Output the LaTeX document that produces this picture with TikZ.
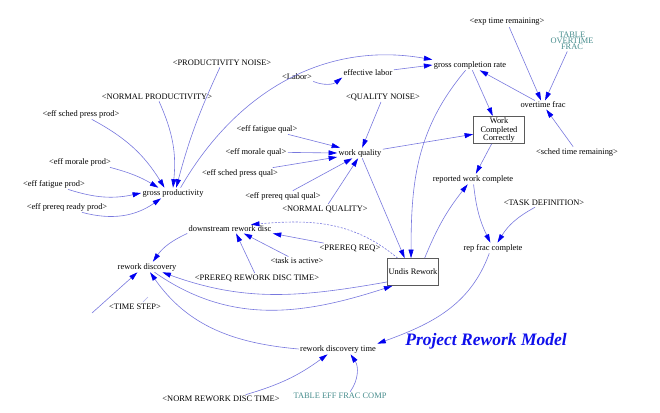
\documentclass[tikz,border=0pt]{standalone}
\usepackage{fontspec}
\setmainfont{Liberation Serif}
\usetikzlibrary{arrows.meta}
\definecolor{linkblue}{RGB}{120,120,222}
\definecolor{tipblue}{RGB}{0,0,240}
\definecolor{tblteal}{RGB}{70,140,140}
\definecolor{titleblue}{RGB}{15,15,235}
\definecolor{boxgray}{RGB}{90,90,90}
\tikzset{
  var/.style={font=\fontsize{8.4}{8.8}\selectfont,inner sep=1.3pt},
  tbl/.style={var,text=tblteal,align=center},
  lvl/.style={var,draw=boxgray,line width=0.8pt,minimum width=51pt,minimum height=27pt,align=center,inner sep=1pt},
  link/.style={draw=linkblue,line width=0.6pt,-{Triangle[length=8.5pt,width=5pt,color=tipblue]}},
  dlink/.style={link,dash pattern=on 2pt off 1.5pt},
  ttl/.style={font=\fontsize{17.5}{20}\selectfont\bfseries\itshape,text=titleblue}
}
\begin{document}
\begin{tikzpicture}[x=1pt,y=-1pt]
  \useasboundingbox (0,0) rectangle (660,412);
  \node[var] (pnoise) at (222,63) {<PRODUCTIVITY NOISE>};
  \node[var] (nprod) at (157,97) {<NORMAL PRODUCTIVITY>};
  \node[var] (espp) at (81,114) {<eff sched press prod>};
  \node[var] (emp) at (80,162) {<eff morale prod>};
  \node[var] (efp) at (54,184) {<eff fatigue prod>};
  \node[var] (eprp) at (67,207) {<eff prereq ready prod>};
  \node[var] (gp) at (173,193) {gross productivity};
  \node[var] (labor) at (297,77) {<Labor>};
  \node[var] (efflab) at (368,73) {effective labor};
  \node[var] (gcr) at (470,65) {gross completion rate};
  \node[var] (exptr) at (507,22) {<exp time remaining>};
  \node[tbl,font=\fontsize{8.4}{5.6}\selectfont] (tovf) at (572,41) {TABLE\\OVERTIME\\FRAC};
  \node[var] (ovf) at (543,105) {overtime frac};
  \node[var] (schtr) at (577,152) {<sched time remaining>};
  \node[lvl] (wcc) at (499,130) {Work\\Completed\\Correctly};
  \node[var] (qnoise) at (383,97) {<QUALITY NOISE>};
  \node[var] (efq) at (267,129) {<eff fatigue qual>};
  \node[var] (emq) at (256,152) {<eff morale qual>};
  \node[var] (espq) at (240,173) {<eff sched press qual>};
  \node[var] (epqq) at (283,196) {<eff prereq qual qual>};
  \node[var] (nqual) at (325,209) {<NORMAL QUALITY>};
  \node[var] (wq) at (360,153) {work quality};
  \node[var] (rwc) at (473,179) {reported work complete};
  \node[var] (taskdef) at (544,203) {<TASK DEFINITION>};
  \node[var] (rfc) at (493,248) {rep frac complete};
  \node[var] (drd) at (230,229) {downstream rework disc};
  \node[var] (prereq) at (350,248) {<PREREQ REQ>};
  \node[var] (tia) at (297,261) {<task is active>};
  \node[var] (prdt) at (257,278) {<PREREQ REWORK DISC TIME>};
  \node[var] (rd) at (147,267) {rework discovery};
  \node[lvl] (ur) at (413,272) {Undis Rework};
  \node[var] (tstep) at (135,307) {<TIME STEP>};
  \node[var] (rdt) at (338,349) {rework discovery time};
  \node[var] (nrdt) at (221,399) {<NORM REWORK DISC TIME>};
  \node[tbl] (tefc) at (340,396) {TABLE EFF FRAC COMP};
  \node[ttl] (title) at (486,341) {Project Rework Model};
  \coordinate (tsa) at (92,313);
  \coordinate (tsb) at (143,302);
  \coordinate (tsc) at (148,297);

  \draw[link] (pnoise) to[bend right=5] (gp.59);
  \draw[link] (nprod) to[bend left=15] (gp.90);
  \draw[link] (espp) to[bend left=15] (gp.148);
  \draw[link] (emp) to[bend left=8] (gp.160);
  \draw[link] (efp) to[bend right=15] (gp.west);
  \draw[link] (eprp) to[bend right=25] (gp.-156);
  \draw[link] (gp.35) to[out=60,in=170] (gcr.north west);
  \draw[link] (labor.south east) to[bend right=30] (efflab.south west);
  \draw[link] (efflab) -- (gcr.west);
  \draw[link] (gcr) -- (wcc);
  \draw[link] (gcr) to[out=230,in=90] (ur.98);
  \draw[link] (ovf) -- (gcr);
  \draw[link] (exptr) -- (ovf);
  \draw[link] (tovf) -- (ovf);
  \draw[link] (schtr) -- (ovf);
  \draw[link] (qnoise) -- (wq);
  \draw[link] (efq) -- (wq.165);
  \draw[link] (emq) -- (wq.west);
  \draw[link] (espq) -- (wq.190);
  \draw[link] (epqq) -- (wq.215);
  \draw[link] (nqual) -- (wq.250);
  \draw[link] (wq) -- (wcc);
  \draw[link] (wq) -- (ur.121);
  \draw[link] (wcc) -- (rwc);
  \draw[link] (rwc) to[bend right=10] (rfc);
  \draw[link] (ur.50) to[bend left=8] (rwc.-135);
  \draw[link] (taskdef) to[bend right=15] (rfc.50);
  \draw[link] (rfc.-125) to[out=250,in=20] (rdt.north east);
  \draw[dlink] (ur.138) to[out=140,in=5] (drd.12);
  \draw[link] (prereq) -- (drd.south east);
  \draw[link] (tia) -- (drd.-18);
  \draw[link] (prdt) -- (drd.-36);
  \draw[link] (drd.south west) to[out=205,in=55] (rd.42);
  \draw[link] (ur.201) to[out=190,in=-20] (rd.-19);
  \draw[link] (rd.-35) to[out=-35,in=198] (ur.-146);
  \draw[link] (rdt.west) to[out=175,in=-55] (rd.-60);
  \draw[link] (tsa) -- (rd.-151);
  \draw[draw=linkblue!60,line width=0.5pt] (tsb) -- (tsc);
  \draw[link] (nrdt.10) to[bend right=10] (rdt.-153);
  \draw[link] (tefc.23) to[bend right=35] (rdt.-23);
\end{tikzpicture}
\end{document}
